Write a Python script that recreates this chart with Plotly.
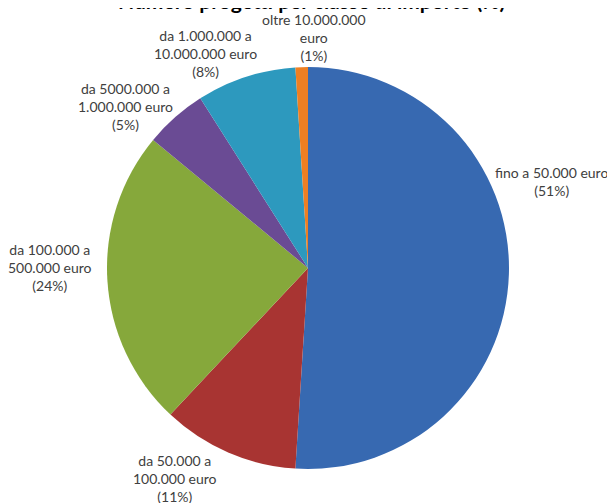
import plotly.graph_objects as go

# classi di importo, in senso orario dalle ore 12
classi = ['fino a 50.000 euro', 'da 50.000 a<br>100.000 euro', 'da 100.000 a<br>500.000 euro',
          'da 5000.000 a<br>1.000.000 euro', 'da 1.000.000 a<br>10.000.000 euro', 'oltre 10.000.000<br>euro']
percentuali = [51, 11, 24, 5, 8, 1]
colori = ['#3769b1', '#a83432', '#86a83b', '#6a4b94', '#2d99be', '#ee7f22']

# posizione delle etichette (pixel dall'angolo in alto a sinistra della pagina)
etich_x = [551, 175, 50, 125, 205, 314]
etich_y = [181, 478, 267, 107, 53, 38]

W, H = 615, 503
OFF = 8  # margine del body della pagina html
cx, cy, r = 308 - OFF, 268 - OFF, 201

fig = go.Figure(go.Pie(
    labels=classi,
    values=percentuali,
    sort=False,
    direction='clockwise',
    rotation=0,
    marker=dict(colors=colori, line=dict(width=0)),
    textinfo='none',
    hoverinfo='label+percent',
    showlegend=False,
    domain=dict(x=[(cx - r) / W, (cx + r) / W], y=[(H - cy - r) / H, (H - cy + r) / H]),
))

for c, p, x, y in zip(classi, percentuali, etich_x, etich_y):
    fig.add_annotation(
        x=(x - OFF) / W, y=1 - (y - OFF) / H, xref='paper', yref='paper',
        text=c + '<br>(' + str(p) + '%)',
        showarrow=False, xanchor='center', yanchor='middle', align='center',
        font=dict(family='Lato', size=14, color='#404040'),
    )

# titolo tagliato in alto come nell'originale
fig.add_annotation(
    x=(311 - OFF) / W, y=1 + 8 / H, xref='paper', yref='paper',
    text='<b>Numero progetti per classe di importo (%)</b>',
    showarrow=False, xanchor='center', yanchor='middle',
    font=dict(family='Lato', size=21, color='black'),
)

fig.update_layout(
    width=W, height=H,
    margin=dict(l=0, r=0, t=0, b=0),
    paper_bgcolor='white',
)

fig.write_html("out.html")
